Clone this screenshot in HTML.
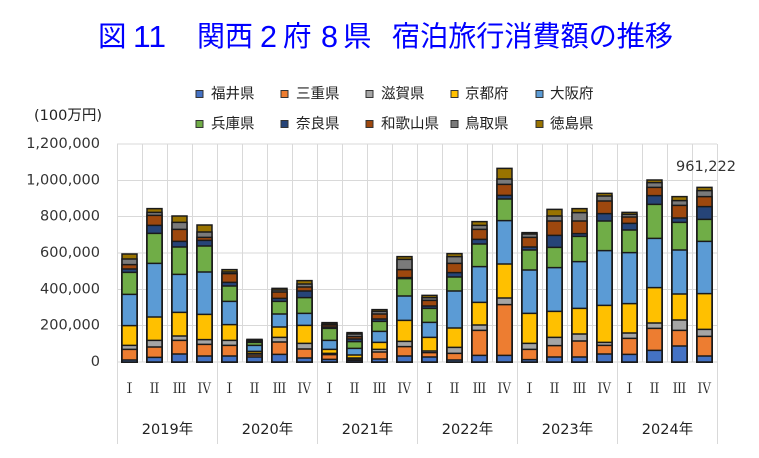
<!DOCTYPE html>
<html>
<head>
<meta charset="utf-8">
<style>
html,body{margin:0;padding:0;background:#fff;}
svg{display:block;}
.t{fill:#997300}.r{fill:#7a7a7a}.w{fill:#9E480E}.n{fill:#264478}.h{fill:#70AD47}
.o{fill:#5B9BD5}.k{fill:#FFC000}.s{fill:#A5A5A5}.m{fill:#ED7D31}.f{fill:#4472C4}
.bars path{stroke:#1a1a1a;stroke-width:1.5;vector-effect:non-scaling-stroke;}
.num{font-family:"DejaVu Sans","Liberation Sans",sans-serif;font-size:14.5px;fill:#333;}
.jp{font-family:"Liberation Sans","Noto Sans CJK JP",sans-serif;font-size:14.5px;fill:#222;}
.yr{font-family:"DejaVu Sans","Noto Sans CJK JP",sans-serif;font-size:14.5px;fill:#222;}
.rom{font-family:"Noto Serif CJK SC","Noto Sans CJK JP",serif;font-size:14px;fill:#222;}
.ttl{font-family:"Noto Sans CJK JP",sans-serif;font-size:28.5px;fill:#0000ff;}
.ttn{font-family:"Liberation Sans",sans-serif;font-size:31px;fill:#0000ff;}
.lb rect{stroke:#333;stroke-width:1;}
</style>
</head>
<body>
<svg width="759" height="458" viewBox="0 0 759 458" xmlns="http://www.w3.org/2000/svg">
<rect width="759" height="458" fill="#fff"/>

<!-- Title -->
<text class="ttl" x="98" y="46">図</text>
<text class="ttn" x="133" y="47" textLength="33" lengthAdjust="spacingAndGlyphs">11</text>
<text class="ttl" x="197" y="46" textLength="56" lengthAdjust="spacingAndGlyphs">関西</text>
<text class="ttn" x="260" y="47" textLength="17" lengthAdjust="spacingAndGlyphs">2</text>
<text class="ttl" x="283" y="46">府</text>
<text class="ttn" x="321" y="47" textLength="17" lengthAdjust="spacingAndGlyphs">8</text>
<text class="ttl" x="343" y="46">県</text>
<text class="ttl" x="392" y="46" textLength="281" lengthAdjust="spacingAndGlyphs">宿泊旅行消費額の推移</text>

<!-- Legend -->
<g class="lb">
<rect x="196" y="90.5" width="7" height="7" class="f"/><text class="jp" x="211" y="98.5">福井県</text>
<rect x="281" y="90.5" width="7" height="7" class="m"/><text class="jp" x="296" y="98.5">三重県</text>
<rect x="366" y="90.5" width="7" height="7" class="s"/><text class="jp" x="381" y="98.5">滋賀県</text>
<rect x="451" y="90.5" width="7" height="7" class="k"/><text class="jp" x="465" y="98.5">京都府</text>
<rect x="536" y="90.5" width="7" height="7" class="o"/><text class="jp" x="550" y="98.5">大阪府</text>
<rect x="196" y="120.5" width="7" height="7" class="h"/><text class="jp" x="211" y="128.5">兵庫県</text>
<rect x="281" y="120.5" width="7" height="7" class="n"/><text class="jp" x="296" y="128.5">奈良県</text>
<rect x="366" y="120.5" width="7" height="7" class="w"/><text class="jp" x="381" y="128.5">和歌山県</text>
<rect x="451" y="120.5" width="7" height="7" class="r"/><text class="jp" x="465" y="128.5">鳥取県</text>
<rect x="536" y="120.5" width="7" height="7" class="t"/><text class="jp" x="550" y="128.5">徳島県</text>
</g>

<!-- Y unit -->
<text class="yr" x="34" y="120">(100万円)</text>

<!-- Gridlines -->
<g stroke="#d9d9d9" stroke-width="1">
<line x1="117" y1="144" x2="717" y2="144"/>
<line x1="117" y1="180.5" x2="717" y2="180.5"/>
<line x1="117" y1="216.5" x2="717" y2="216.5"/>
<line x1="117" y1="253" x2="717" y2="253"/>
<line x1="117" y1="289.5" x2="717" y2="289.5"/>
<line x1="117" y1="325.5" x2="717" y2="325.5"/>
<line x1="117" y1="362" x2="717" y2="362"/>
<line x1="117.5" y1="144" x2="117.5" y2="444"/>
<line x1="142.5" y1="144" x2="142.5" y2="362"/>
<line x1="167.5" y1="144" x2="167.5" y2="362"/>
<line x1="192.5" y1="144" x2="192.5" y2="362"/>
<line x1="217.5" y1="144" x2="217.5" y2="444"/>
<line x1="242.5" y1="144" x2="242.5" y2="362"/>
<line x1="267.5" y1="144" x2="267.5" y2="362"/>
<line x1="292.5" y1="144" x2="292.5" y2="362"/>
<line x1="317.5" y1="144" x2="317.5" y2="444"/>
<line x1="342.5" y1="144" x2="342.5" y2="362"/>
<line x1="367.5" y1="144" x2="367.5" y2="362"/>
<line x1="392.5" y1="144" x2="392.5" y2="362"/>
<line x1="417.5" y1="144" x2="417.5" y2="444"/>
<line x1="442.5" y1="144" x2="442.5" y2="362"/>
<line x1="467.5" y1="144" x2="467.5" y2="362"/>
<line x1="492.5" y1="144" x2="492.5" y2="362"/>
<line x1="517.5" y1="144" x2="517.5" y2="444"/>
<line x1="542.5" y1="144" x2="542.5" y2="362"/>
<line x1="567.5" y1="144" x2="567.5" y2="362"/>
<line x1="592.5" y1="144" x2="592.5" y2="362"/>
<line x1="617.5" y1="144" x2="617.5" y2="444"/>
<line x1="642.5" y1="144" x2="642.5" y2="362"/>
<line x1="667.5" y1="144" x2="667.5" y2="362"/>
<line x1="692.5" y1="144" x2="692.5" y2="362"/>
<line x1="717.5" y1="144" x2="717.5" y2="444"/>
</g>

<!-- Y tick labels -->
<g class="num" text-anchor="end">
<text x="100" y="148">1,200,000</text>
<text x="100" y="184.5">1,000,000</text>
<text x="100" y="220.6">800,000</text>
<text x="100" y="257">600,000</text>
<text x="100" y="293.3">400,000</text>
<text x="100" y="329.7">200,000</text>
<text x="100" y="366">0</text>
</g>

<!-- Bars -->
<g class="bars">
<g transform="matrix(1 0 0 0.333333 0 160)">
<path class="t" d="M122 282H137V606H122Z"/><path class="r" d="M122 297H137V606H122Z"/><path class="w" d="M122 314H137V606H122Z"/><path class="n" d="M122 327H137V606H122Z"/><path class="h" d="M122 337H137V606H122Z"/><path class="o" d="M122 403H137V606H122Z"/><path class="k" d="M122 497H137V606H122Z"/><path class="s" d="M122 556H137V606H122Z"/><path class="m" d="M122 568H137V606H122Z"/><path class="f" d="M122 600H137V606H122Z"/>
<path class="t" d="M147 146H162V606H147Z"/><path class="r" d="M147 157H162V606H147Z"/><path class="w" d="M147 166H162V606H147Z"/><path class="n" d="M147 196H162V606H147Z"/><path class="h" d="M147 220H162V606H147Z"/><path class="o" d="M147 310H162V606H147Z"/><path class="k" d="M147 471H162V606H147Z"/><path class="s" d="M147 541H162V606H147Z"/><path class="m" d="M147 561H162V606H147Z"/><path class="f" d="M147 592H162V606H147Z"/>
<path class="t" d="M172 168H187V606H172Z"/><path class="r" d="M172 187H187V606H172Z"/><path class="w" d="M172 208H187V606H172Z"/><path class="n" d="M172 244H187V606H172Z"/><path class="h" d="M172 261H187V606H172Z"/><path class="o" d="M172 343H187V606H172Z"/><path class="k" d="M172 457H187V606H172Z"/><path class="s" d="M172 528H187V606H172Z"/><path class="m" d="M172 541H187V606H172Z"/><path class="f" d="M172 582H187V606H172Z"/>
<path class="t" d="M197 195H212V606H197Z"/><path class="r" d="M197 216H212V606H197Z"/><path class="w" d="M197 232H212V606H197Z"/><path class="n" d="M197 241H212V606H197Z"/><path class="h" d="M197 258H212V606H197Z"/><path class="o" d="M197 336H212V606H197Z"/><path class="k" d="M197 463H212V606H197Z"/><path class="s" d="M197 539H212V606H197Z"/><path class="m" d="M197 553H212V606H197Z"/><path class="f" d="M197 588H212V606H197Z"/>
<path class="t" d="M222 329H237V606H222Z"/><path class="r" d="M222 336H237V606H222Z"/><path class="w" d="M222 341H237V606H222Z"/><path class="n" d="M222 367H237V606H222Z"/><path class="h" d="M222 378H237V606H222Z"/><path class="o" d="M222 424H237V606H222Z"/><path class="k" d="M222 494H237V606H222Z"/><path class="s" d="M222 541H237V606H222Z"/><path class="m" d="M222 556H237V606H222Z"/><path class="f" d="M222 588H237V606H222Z"/>
<path class="t" d="M247 538H262V606H247Z"/><path class="r" d="M247 540H262V606H247Z"/><path class="w" d="M247 541H262V606H247Z"/><path class="n" d="M247 543H262V606H247Z"/><path class="h" d="M247 547H262V606H247Z"/><path class="o" d="M247 556H262V606H247Z"/><path class="k" d="M247 574H262V606H247Z"/><path class="s" d="M247 580H262V606H247Z"/><path class="m" d="M247 585H262V606H247Z"/><path class="f" d="M247 591H262V606H247Z"/>
<path class="t" d="M272 385H287V606H272Z"/><path class="r" d="M272 390H287V606H272Z"/><path class="w" d="M272 396H287V606H272Z"/><path class="n" d="M272 415H287V606H272Z"/><path class="h" d="M272 424H287V606H272Z"/><path class="o" d="M272 462H287V606H272Z"/><path class="k" d="M272 501H287V606H272Z"/><path class="s" d="M272 532H287V606H272Z"/><path class="m" d="M272 546H287V606H272Z"/><path class="f" d="M272 583H287V606H272Z"/>
<path class="t" d="M297 362H312V606H297Z"/><path class="r" d="M297 372H312V606H297Z"/><path class="w" d="M297 381H312V606H297Z"/><path class="n" d="M297 393H312V606H297Z"/><path class="h" d="M297 413H312V606H297Z"/><path class="o" d="M297 460H312V606H297Z"/><path class="k" d="M297 496H312V606H297Z"/><path class="s" d="M297 550H312V606H297Z"/><path class="m" d="M297 567H312V606H297Z"/><path class="f" d="M297 594H312V606H297Z"/>
<path class="t" d="M322 488H337V606H322Z"/><path class="r" d="M322 492H337V606H322Z"/><path class="w" d="M322 495H337V606H322Z"/><path class="n" d="M322 501H337V606H322Z"/><path class="h" d="M322 505H337V606H322Z"/><path class="o" d="M322 541H337V606H322Z"/><path class="k" d="M322 568H337V606H322Z"/><path class="s" d="M322 580H337V606H322Z"/><path class="m" d="M322 584H337V606H322Z"/><path class="f" d="M322 598H337V606H322Z"/>
<path class="t" d="M347 518H362V606H347Z"/><path class="r" d="M347 522H362V606H347Z"/><path class="w" d="M347 530H362V606H347Z"/><path class="n" d="M347 537H362V606H347Z"/><path class="h" d="M347 545H362V606H347Z"/><path class="o" d="M347 565H362V606H347Z"/><path class="k" d="M347 585H362V606H347Z"/><path class="s" d="M347 594H362V606H347Z"/><path class="m" d="M347 597H362V606H347Z"/><path class="f" d="M347 601H362V606H347Z"/>
<path class="t" d="M372 449H387V606H372Z"/><path class="r" d="M372 454H387V606H372Z"/><path class="w" d="M372 462H387V606H372Z"/><path class="n" d="M372 477H387V606H372Z"/><path class="h" d="M372 484H387V606H372Z"/><path class="o" d="M372 514H387V606H372Z"/><path class="k" d="M372 547H387V606H372Z"/><path class="s" d="M372 568H387V606H372Z"/><path class="m" d="M372 576H387V606H372Z"/><path class="f" d="M372 597H387V606H372Z"/>
<path class="t" d="M397 290H412V606H397Z"/><path class="r" d="M397 298H412V606H397Z"/><path class="w" d="M397 329H412V606H397Z"/><path class="n" d="M397 353H412V606H397Z"/><path class="h" d="M397 356H412V606H397Z"/><path class="o" d="M397 408H412V606H397Z"/><path class="k" d="M397 481H412V606H397Z"/><path class="s" d="M397 544H412V606H397Z"/><path class="m" d="M397 560H412V606H397Z"/><path class="f" d="M397 588H412V606H397Z"/>
<path class="t" d="M422 406H437V606H422Z"/><path class="r" d="M422 413H437V606H422Z"/><path class="w" d="M422 421H437V606H422Z"/><path class="n" d="M422 438H437V606H422Z"/><path class="h" d="M422 445H437V606H422Z"/><path class="o" d="M422 487H437V606H422Z"/><path class="k" d="M422 532H437V606H422Z"/><path class="s" d="M422 573H437V606H422Z"/><path class="m" d="M422 578H437V606H422Z"/><path class="f" d="M422 591H437V606H422Z"/>
<path class="t" d="M447 281H462V606H447Z"/><path class="r" d="M447 290H462V606H447Z"/><path class="w" d="M447 310H462V606H447Z"/><path class="n" d="M447 338H462V606H447Z"/><path class="h" d="M447 351H462V606H447Z"/><path class="o" d="M447 393H462V606H447Z"/><path class="k" d="M447 504H462V606H447Z"/><path class="s" d="M447 562H462V606H447Z"/><path class="m" d="M447 580H462V606H447Z"/><path class="f" d="M447 600H462V606H447Z"/>
<path class="t" d="M472 185H487V606H472Z"/><path class="r" d="M472 196H487V606H472Z"/><path class="w" d="M472 208H487V606H472Z"/><path class="n" d="M472 238H487V606H472Z"/><path class="h" d="M472 252H487V606H472Z"/><path class="o" d="M472 320H487V606H472Z"/><path class="k" d="M472 427H487V606H472Z"/><path class="s" d="M472 495H487V606H472Z"/><path class="m" d="M472 511H487V606H472Z"/><path class="f" d="M472 586H487V606H472Z"/>
<path class="t" d="M497 25H512V606H497Z"/><path class="r" d="M497 57H512V606H497Z"/><path class="w" d="M497 73H512V606H497Z"/><path class="n" d="M497 106H512V606H497Z"/><path class="h" d="M497 117H512V606H497Z"/><path class="o" d="M497 182H512V606H497Z"/><path class="k" d="M497 312H512V606H497Z"/><path class="s" d="M497 414H512V606H497Z"/><path class="m" d="M497 434H512V606H497Z"/><path class="f" d="M497 586H512V606H497Z"/>
</g>
<g transform="matrix(1 0 0 0.333333 0 150)">
<path class="t" d="M522 248H537V636H522Z"/><path class="r" d="M522 252H537V636H522Z"/><path class="w" d="M522 262H537V636H522Z"/><path class="n" d="M522 291H537V636H522Z"/><path class="h" d="M522 300H537V636H522Z"/><path class="o" d="M522 360H537V636H522Z"/><path class="k" d="M522 490H537V636H522Z"/><path class="s" d="M522 580H537V636H522Z"/><path class="m" d="M522 598H537V636H522Z"/><path class="f" d="M522 629H537V636H522Z"/>
<path class="t" d="M547 178H562V636H547Z"/><path class="r" d="M547 198H562V636H547Z"/><path class="w" d="M547 213H562V636H547Z"/><path class="n" d="M547 256H562V636H547Z"/><path class="h" d="M547 292H562V636H547Z"/><path class="o" d="M547 353H562V636H547Z"/><path class="k" d="M547 484H562V636H547Z"/><path class="s" d="M547 562H562V636H547Z"/><path class="m" d="M547 587H562V636H547Z"/><path class="f" d="M547 621H562V636H547Z"/>
<path class="t" d="M572 176H587V636H572Z"/><path class="r" d="M572 188H587V636H572Z"/><path class="w" d="M572 213H587V636H572Z"/><path class="n" d="M572 251H587V636H572Z"/><path class="h" d="M572 259H587V636H572Z"/><path class="o" d="M572 335H587V636H572Z"/><path class="k" d="M572 475H587V636H572Z"/><path class="s" d="M572 552H587V636H572Z"/><path class="m" d="M572 573H587V636H572Z"/><path class="f" d="M572 621H587V636H572Z"/>
<path class="t" d="M597 130H612V636H597Z"/><path class="r" d="M597 138H612V636H597Z"/><path class="w" d="M597 153H612V636H597Z"/><path class="n" d="M597 191H612V636H597Z"/><path class="h" d="M597 213H612V636H597Z"/><path class="o" d="M597 302H612V636H597Z"/><path class="k" d="M597 466H612V636H597Z"/><path class="s" d="M597 577H612V636H597Z"/><path class="m" d="M597 586H612V636H597Z"/><path class="f" d="M597 612H612V636H597Z"/>
<path class="t" d="M622 187H637V636H622Z"/><path class="r" d="M622 193H637V636H622Z"/><path class="w" d="M622 201H637V636H622Z"/><path class="n" d="M622 220H637V636H622Z"/><path class="h" d="M622 240H637V636H622Z"/><path class="o" d="M622 308H637V636H622Z"/><path class="k" d="M622 461H637V636H622Z"/><path class="s" d="M622 549H637V636H622Z"/><path class="m" d="M622 565H637V636H622Z"/><path class="f" d="M622 613H637V636H622Z"/>
<path class="t" d="M647 90H662V636H647Z"/><path class="r" d="M647 98H662V636H647Z"/><path class="w" d="M647 112H662V636H647Z"/><path class="n" d="M647 137H662V636H647Z"/><path class="h" d="M647 163H662V636H647Z"/><path class="o" d="M647 265H662V636H647Z"/><path class="k" d="M647 413H662V636H647Z"/><path class="s" d="M647 519H662V636H647Z"/><path class="m" d="M647 535H662V636H647Z"/><path class="f" d="M647 601H662V636H647Z"/>
<path class="t" d="M672 140H687V636H672Z"/><path class="r" d="M672 152H687V636H672Z"/><path class="w" d="M672 166H687V636H672Z"/><path class="n" d="M672 204H687V636H672Z"/><path class="h" d="M672 217H687V636H672Z"/><path class="o" d="M672 300H687V636H672Z"/><path class="k" d="M672 432H687V636H672Z"/><path class="s" d="M672 510H687V636H672Z"/><path class="m" d="M672 541H687V636H672Z"/><path class="f" d="M672 588H687V636H672Z"/>
<path class="t" d="M697 112H712V636H697Z"/><path class="r" d="M697 122H712V636H697Z"/><path class="w" d="M697 140H712V636H697Z"/><path class="n" d="M697 170H712V636H697Z"/><path class="h" d="M697 208H712V636H697Z"/><path class="o" d="M697 274H712V636H697Z"/><path class="k" d="M697 431H712V636H697Z"/><path class="s" d="M697 538H712V636H697Z"/><path class="m" d="M697 559H712V636H697Z"/><path class="f" d="M697 618H712V636H697Z"/>
</g>
</g>

<!-- Data label -->
<text class="num" x="676" y="171">961,222</text>

<!-- Quarter labels -->
<g class="rom" text-anchor="middle">
<text x="129.5" y="393">Ⅰ</text><text x="154.5" y="393">Ⅱ</text><text x="179.5" y="393">Ⅲ</text><text x="204.5" y="393">Ⅳ</text>
<text x="229.5" y="393">Ⅰ</text><text x="254.5" y="393">Ⅱ</text><text x="279.5" y="393">Ⅲ</text><text x="304.5" y="393">Ⅳ</text>
<text x="329.5" y="393">Ⅰ</text><text x="354.5" y="393">Ⅱ</text><text x="379.5" y="393">Ⅲ</text><text x="404.5" y="393">Ⅳ</text>
<text x="429.5" y="393">Ⅰ</text><text x="454.5" y="393">Ⅱ</text><text x="479.5" y="393">Ⅲ</text><text x="504.5" y="393">Ⅳ</text>
<text x="529.5" y="393">Ⅰ</text><text x="554.5" y="393">Ⅱ</text><text x="579.5" y="393">Ⅲ</text><text x="604.5" y="393">Ⅳ</text>
<text x="629.5" y="393">Ⅰ</text><text x="654.5" y="393">Ⅱ</text><text x="679.5" y="393">Ⅲ</text><text x="704.5" y="393">Ⅳ</text>
</g>

<!-- Year labels -->
<g class="yr" text-anchor="middle">
<text x="167.5" y="434">2019年</text>
<text x="267.5" y="434">2020年</text>
<text x="367.5" y="434">2021年</text>
<text x="467.5" y="434">2022年</text>
<text x="567.5" y="434">2023年</text>
<text x="667.5" y="434">2024年</text>
</g>
</svg>
</body>
</html>
